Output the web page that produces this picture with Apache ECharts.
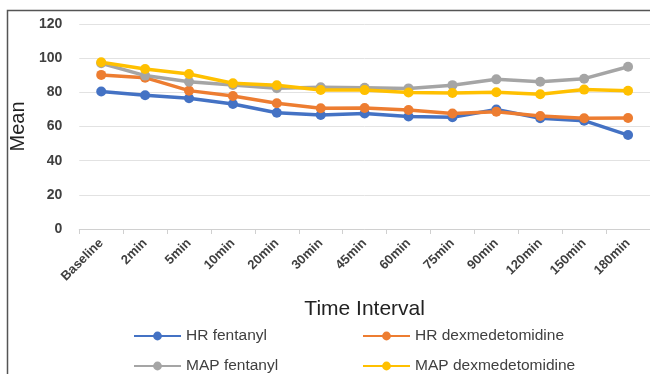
<!DOCTYPE html>
<html><head><meta charset="utf-8">
<script src="https://cdn.jsdelivr.net/npm/echarts@6/dist/echarts.min.js"></script>
<style>html,body{margin:0;padding:0;background:#fff}#c{width:650px;height:374px}</style>
</head><body><div id="c"></div>
<script>
const categories = ['Baseline','2min','5min','10min','20min','30min','45min','60min','75min','90min','120min','150min','180min'];
const hrFentanyl = [80.5, 78.3, 76.5, 73.2, 68.1, 66.7, 67.6, 65.9, 65.4, 70.0, 64.8, 63.4, 55.0];
const hrDex = [90.2, 88.6, 81.0, 77.9, 73.6, 70.7, 70.8, 69.7, 67.6, 68.7, 66.1, 64.8, 65.0];
const mapFentanyl = [97.0, 89.8, 86.2, 84.3, 82.4, 83.0, 82.7, 82.3, 84.2, 87.6, 86.2, 88.0, 95.0];
const mapDex = [97.6, 93.7, 90.7, 85.3, 84.1, 81.4, 81.3, 79.9, 79.6, 80.1, 78.9, 81.6, 80.9];
const yTicks = [0, 20, 40, 60, 80, 100, 120];
const seriesNames = ['HR fentanyl','HR dexmedetomidine','MAP fentanyl','MAP dexmedetomidine'];
const colors = ['#4472C4','#ED7D31','#A5A5A5','#FFC000'];
const values = [hrFentanyl, hrDex, mapFentanyl, mapDex];

const chart = echarts.init(document.getElementById('c'), null, {renderer:'canvas'});
const legendPos = [[128,323],[357,323],[128,353],[357,353]];
chart.setOption({
  animation:false,
  color: colors,
  graphic:[{type:'polyline', shape:{points:[[7.5,374],[7.5,10.5],[650,10.5]]}, style:{stroke:'#555', lineWidth:1.5, fill:null}}],
  grid:{left:79, top:24, width:572, bottom:145, containLabel:false},
  legend: seriesNames.map((n,i)=>({
    data:[n], left:legendPos[i][0], top:legendPos[i][1], itemWidth:47, itemHeight:11, itemGap:4,
    textStyle:{fontFamily:'Liberation Sans Narrow, Arial Narrow, sans-serif', fontSize:15.5, color:'#404040'}
  })),
  xAxis:{type:'category', data:categories, boundaryGap:true,
    name:'Time Interval', nameLocation:'middle', nameGap:70,
    nameTextStyle:{fontFamily:'Liberation Sans, Arial, sans-serif', fontSize:21, color:'#222'},
    axisLine:{lineStyle:{color:'#d0d0d0', width:1}},
    axisTick:{show:true, alignWithLabel:false, length:5, lineStyle:{color:'#d0d0d0'}},
    axisLabel:{rotate:45, interval:0, margin:12, fontFamily:'Liberation Sans, Arial, sans-serif', fontWeight:'bold', fontSize:13, color:'#404040'}
  },
  yAxis:{type:'value', min:0, max:120, interval:20,
    name:'Mean', nameLocation:'middle', nameGap:50, nameRotate:90,
    nameTextStyle:{fontFamily:'Liberation Sans, Arial, sans-serif', fontSize:20, color:'#222'},
    axisLine:{show:false}, axisTick:{show:false},
    splitLine:{lineStyle:{color:'#e2e2e2', width:1}},
    axisLabel:{margin:17, fontFamily:'Liberation Sans, Arial, sans-serif', fontWeight:'bold', fontSize:14, color:'#404040',
      formatter:v=> yTicks.includes(v)? String(v):''}
  },
  series: seriesNames.map((n,i)=>({
    name:n, type:'line', data:values[i], symbol:'circle', symbolSize:10,
    lineStyle:{width:3.5, color:colors[i]}, itemStyle:{color:colors[i]}
  }))
});
</script></body></html>
